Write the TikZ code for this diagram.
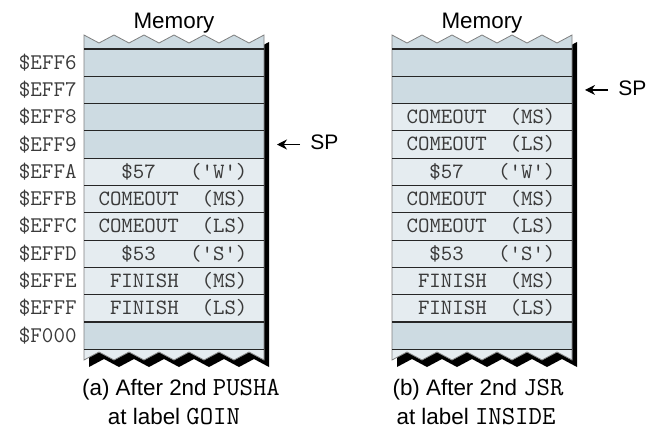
\documentclass[tikz,border=0pt]{standalone}
\usepackage{fontspec}
\setmainfont{Liberation Sans}
\usetikzlibrary{arrows.meta}
\definecolor{rowdark}{HTML}{CDDBE2}
\definecolor{rowlight}{HTML}{E5ECF0}
\definecolor{celltext}{HTML}{3A3A3A}
\newcommand\memshape{(0,35) \foreach \k in {0,...,5} {-- ({15+30*\k},43) -- ({30+30*\k},35)}
  -- (180,360) \foreach \k in {0,...,5} {-- ({165-30*\k},352) -- ({150-30*\k},360)} -- cycle}
\newcommand\captt[1]{{\fontsize{13}{15}\ttfamily #1}}
\tikzset{
  cell/.style={font=\fontsize{10.9}{12}\ttfamily,text=celltext,inner sep=0pt,anchor=base},
  addr/.style={font=\fontsize{11.2}{12}\ttfamily,text=celltext,inner sep=0pt,anchor=base east},
  lbl/.style={font=\fontsize{11.2}{13}\selectfont,inner sep=0pt,anchor=base},
  splbl/.style={font=\fontsize{10.5}{12}\selectfont,inner ysep=0pt,inner xsep=5pt,anchor=base west},
  edge/.style={draw=gray,line width=0.4pt},
  rowline/.style={draw=black!85,line width=0.55pt},
  ptr/.style={-{Stealth[length=5pt,width=5pt]},line width=0.6pt},
}
\begin{document}
\begin{tikzpicture}[x=0.5pt,y=-0.5pt]
	\useasboundingbox (0,0) rectangle (649,434);
	% addresses
	\foreach \i/\a in {1/EFF6,2/EFF7,3/EFF8,4/EFF9,5/EFFA,6/EFFB,7/EFFC,8/EFFD,9/EFFE,10/EFFF,11/F000}
		\node[addr] (adr\i) at (77,{62.65+27.3*(\i-1)+6.5}) {\$\a};
	% (a) after PUSHA
	\begin{scope}[shift={(84,0)}]
		\fill[black,shift={(5,7)}] \memshape;
		\fill[rowdark] \memshape;
		\begin{scope}
			\clip \memshape;
			\fill[rowlight] (0,349.3) rectangle (190,380);
		\end{scope}
		\foreach \i in {5,...,10}
			\fill[rowlight] (0,{49+27.3*(\i-1)}) rectangle (180,{49+27.3*\i});
		\draw[edge] \memshape;
		\foreach \i in {0,...,11}
			\draw[rowline] (0,{49+27.3*\i}) -- (180,{49+27.3*\i});
		\foreach \i/\txt in {5/{~~\$57~~~('W')},6/{COMEOUT~~(MS)},7/{COMEOUT~~(LS)},
				8/{~~\$53~~~('S')},9/{~FINISH~~(MS)},10/{~FINISH~~(LS)}}
			\node[cell] (a\i) at (89,{62.65+27.3*(\i-1)+6.3}) {\txt};
		\node[lbl] (memA) at (90,28) {Memory};
		\node[lbl] (capA1) at (97,395) {(a) After 2nd \captt{PUSHA}};
		\node[lbl] (capA2) at (90,424) {at label \captt{GOIN}};
		\coordinate (tipA) at (193,144.5);
		\node[splbl] (spA) at (216,144.5+5.2) {SP};
		\draw[ptr] (spA.west|-tipA) -- (tipA);
	\end{scope}
	% (b) after JSR
	\begin{scope}[shift={(392,0)}]
		\fill[black,shift={(5,7)}] \memshape;
		\fill[rowdark] \memshape;
		\begin{scope}
			\clip \memshape;
			\fill[rowlight] (0,349.3) rectangle (190,380);
		\end{scope}
		\foreach \i in {3,...,10}
			\fill[rowlight] (0,{49+27.3*(\i-1)}) rectangle (180,{49+27.3*\i});
		\draw[edge] \memshape;
		\foreach \i in {0,...,11}
			\draw[rowline] (0,{49+27.3*\i}) -- (180,{49+27.3*\i});
		\foreach \i/\txt in {3/{COMEOUT~~(MS)},4/{COMEOUT~~(LS)},5/{~~\$57~~~('W')},6/{COMEOUT~~(MS)},
				7/{COMEOUT~~(LS)},8/{~~\$53~~~('S')},9/{~FINISH~~(MS)},10/{~FINISH~~(LS)}}
			\node[cell] (b\i) at (89,{62.65+27.3*(\i-1)+6.3}) {\txt};
		\node[lbl] (memB) at (90,28) {Memory};
		\node[lbl] (capB1) at (86,395) {(b) After 2nd \captt{JSR}};
		\node[lbl] (capB2) at (84,424) {at label \captt{INSIDE}};
		\coordinate (tipB) at (193,89.95);
		\node[splbl] (spB) at (216,89.95+5.2) {SP};
		\draw[ptr] (spB.west|-tipB) -- (tipB);
	\end{scope}
\end{tikzpicture}
\end{document}
